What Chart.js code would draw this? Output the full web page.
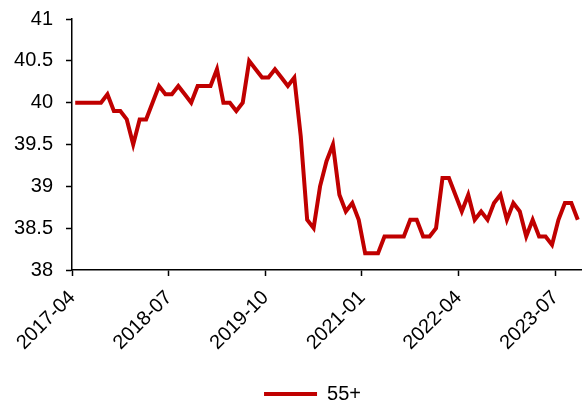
<!DOCTYPE html>
<html>
<head>
<meta charset="utf-8">
<script src="https://cdn.jsdelivr.net/npm/chart.js@4"></script>
<style>
  html, body { margin: 0; padding: 0; background: #fff; }
</style>
</head>
<body>
<canvas id="chart" width="583" height="407"></canvas>
<script>
// monthly series, 2017-04 .. 2023-10
const start_year = 2017;
const start_month = 4;
const month_count = 79;
const label_step = 15;

const months = [];
for (let i = 0; i < month_count; i++) {
    let m = start_month - 1 + i;
    let y = start_year + Math.floor(m / 12);
    months.push(`${y}-${String((m % 12) + 1).padStart(2, "0")}`);
}

const series_name = "55+";
const values_55 = [
    40.0, 40.0, 40.0, 40.0, 40.0, 40.1, 39.9, 39.9, 39.8, 39.5,
    39.8, 39.8, 40.0, 40.2, 40.1, 40.1, 40.2, 40.1, 40.0, 40.2,
    40.2, 40.2, 40.4, 40.0, 40.0, 39.9, 40.0, 40.5, 40.4, 40.3,
    40.3, 40.4, 40.3, 40.2, 40.3, 39.6, 38.6, 38.5, 39.0, 39.3,
    39.5, 38.9, 38.7, 38.8, 38.6, 38.2, 38.2, 38.2, 38.4, 38.4,
    38.4, 38.4, 38.6, 38.6, 38.4, 38.4, 38.5, 39.1, 39.1, 38.9,
    38.7, 38.9, 38.6, 38.7, 38.6, 38.8, 38.9, 38.6, 38.8, 38.7,
    38.4, 38.6, 38.4, 38.4, 38.3, 38.6, 38.8, 38.8, 38.6
];

const y_min = 38;
const y_max = 41;
const y_step = 0.5;

const line_red = "#C00000";
const font = { family: "Arial, 'Liberation Sans', sans-serif", size: 20 };

// nudge the legend a little right and down from its default slot
const legend_shift = {
    id: "legend_shift",
    afterLayout(chart) {
        let lg = chart.legend;
        lg.left += 22;
        lg.right += 22;
        lg.top += 7;
        lg.bottom += 7;
    }
};

new Chart(document.getElementById("chart"), {
    type: "line",
    data: {
        labels: months,
        datasets: [{
            label: series_name,
            data: values_55,
            borderColor: line_red,
            backgroundColor: line_red,
            borderWidth: 4,
            pointRadius: 0,
            tension: 0,
            fill: false
        }]
    },
    options: {
        responsive: false,
        animation: false,
        layout: { padding: { top: 19, right: 2, left: 0, bottom: 0 } },
        plugins: {
            legend: {
                position: "bottom",
                labels: {
                    usePointStyle: true,
                    pointStyle: "line",
                    pointStyleWidth: 53,
                    color: "#000",
                    font: font,
                    padding: 10
                }
            },
            tooltip: { enabled: false }
        },
        scales: {
            x: {
                offset: true,
                grid: {
                    offset: true,
                    drawOnChartArea: false,
                    tickLength: 6,
                    tickWidth: 1.5,
                    tickColor: (ctx) => ctx.index % label_step === 0 ? "#000" : "rgba(0,0,0,0)"
                },
                border: { color: "#000", width: 1.5 },
                ticks: {
                    autoSkip: false,
                    minRotation: 45,
                    maxRotation: 45,
                    labelOffset: -3,
                    padding: 10,
                    color: "#000",
                    font: font,
                    callback: (value, index) => index % label_step === 0 ? months[index] : ""
                },
                afterFit: (scale) => {
                    scale.height = 97;
                    scale.paddingLeft = 0;
                    scale.paddingRight = 0;
                }
            },
            y: {
                min: y_min,
                max: y_max,
                grid: {
                    drawOnChartArea: false,
                    tickLength: 6,
                    tickWidth: 1.5,
                    tickColor: "#000"
                },
                border: { color: "#000", width: 1.5 },
                ticks: {
                    stepSize: y_step,
                    padding: 13,
                    color: "#000",
                    font: font,
                    callback: (value) => String(Math.round(value * 10) / 10)
                },
                afterFit: (scale) => {
                    scale.width = 72;
                    scale.paddingTop = 0;
                    scale.paddingBottom = 0;
                }
            }
        }
    },
    plugins: [legend_shift]
});
</script>
</body>
</html>
